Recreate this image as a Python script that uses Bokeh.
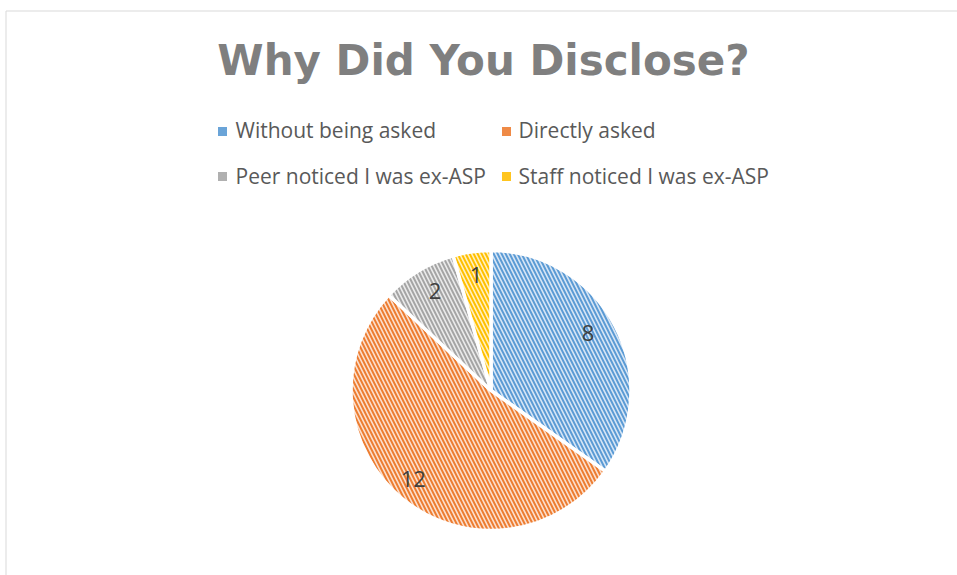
import math
from bokeh.plotting import figure
from bokeh.models import Range1d, ColumnDataSource
from bokeh.core.properties import value
from bokeh.embed import file_html
from bokeh.resources import INLINE

# ---- data ----
title_text = "Why Did You Disclose?"
categories = ["Without being asked", "Directly asked", "Peer noticed I was ex-ASP", "Staff noticed I was ex-ASP"]
counts = [8, 12, 2, 1]
stripe_colors = ["#5b9bd5", "#ed7d31", "#a5a5a5", "#ffc000"]
tint_colors = ["#d8e6f5", "#fbe0cf", "#ebebeb", "#fff0c4"]
legend_marker_colors = ["#6aa4d8", "#ef8a46", "#b0b0b0", "#ffc51f"]

# ---- layout (pixels) ----
W, H = 957, 575
def sx(x):  # page x -> data x
    return x
def sy(y):  # page y -> data y
    return H - y

p = figure(width=W, height=H, output_backend="svg", toolbar_location=None,
           x_range=Range1d(0, W), y_range=Range1d(0, H), min_border=0)
p.axis.visible = False
p.grid.visible = False
p.outline_line_color = None
p.background_fill_color = "white"
p.border_fill_color = "white"

# chart-area border (left & top visible)
p.line(x=[sx(5.5), sx(5.5), W], y=[0, sy(10.5), sy(10.5)], line_color="#d9d9d9", line_width=1)

# ---- pie ----
cx, cy, R = sx(490.5), sy(390), 140
total = sum(counts)
starts, ends, mids = [], [], []
acc = 0
for c in counts:
    a0 = math.pi / 2 - acc / total * 2 * math.pi
    acc += c
    a1 = math.pi / 2 - acc / total * 2 * math.pi
    starts.append(a0)
    ends.append(a1)
    mids.append((a0 + a1) / 2)

src = ColumnDataSource(dict(start=starts, end=ends, fill=tint_colors, hatch=stripe_colors, cat=categories))
p.wedge(x=cx, y=cy, radius=R, start_angle="start", end_angle="end", direction="clock",
        fill_color="fill", hatch_color="hatch", hatch_pattern="\\", hatch_scale=8, hatch_weight=2,
        line_color="white", line_width=3.5, source=src)

lab_frac = [0.78, 0.88, 0.77, 0.78]   # label distance from centre, as fraction of radius
lab_dy = 7
p.text(x=[cx + f * R * math.cos(m) for f, m in zip(lab_frac, mids)],
       y=[cy + lab_dy + f * R * math.sin(m) for f, m in zip(lab_frac, mids)],
       text=[str(c) for c in counts], text_align="center", text_baseline="middle",
       text_font=value("Open Sans"), text_font_size="22px", text_color="#404040")

# ---- title ----
p.text(x=[sx(483)], y=[sy(60)], text=[title_text], text_align="center", text_baseline="alphabetic",
       text_font=value("DejaVu Sans"), text_font_style="bold", text_font_size="42px", text_color="#7f7f7f")

# ---- legend ----
leg_mx = [sx(222), sx(506), sx(222), sx(506)]
leg_my = [sy(131), sy(131), sy(176), sy(176)]
leg_tx = [sx(235), sx(518), sx(235), sx(518)]
leg_ty = [sy(129.5), sy(129.5), sy(175), sy(175)]
p.scatter(x=leg_mx, y=leg_my, marker="square", size=9, fill_color=legend_marker_colors,
          line_color=None)
p.text(x=leg_tx, y=leg_ty, text=categories, text_align="left", text_baseline="alphabetic",
       text_font=value("Open Sans"), text_font_size="21px", text_color="#595959")

open("out.html", "w").write(file_html(p, INLINE))
